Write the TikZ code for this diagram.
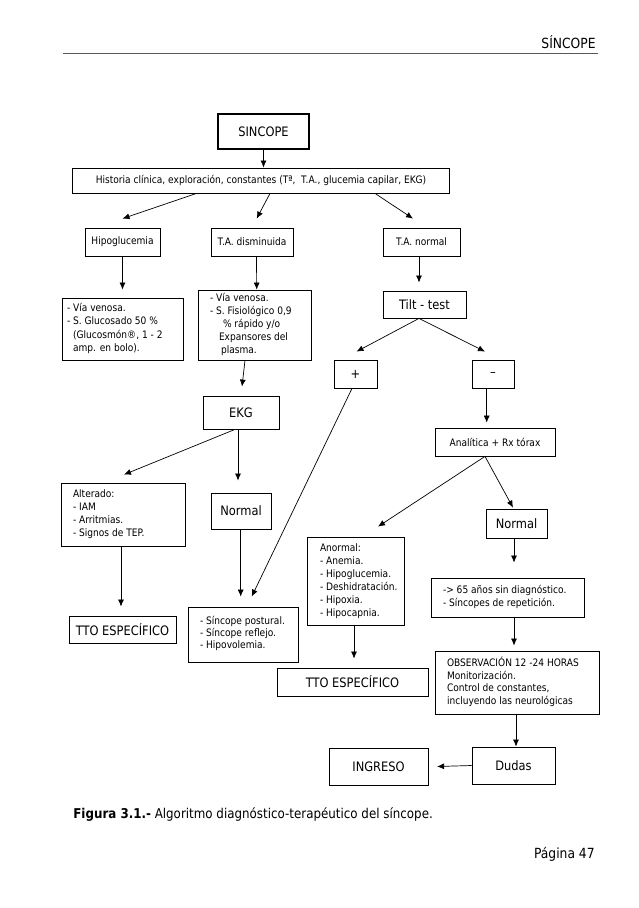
\documentclass[tikz,border=0pt]{standalone}
\usepackage{fontspec}
\setmainfont{DejaVu Sans}[FakeStretch=0.88]
\usetikzlibrary{arrows.meta}

% left-aligned lines in a box of fixed width (long lines may stick out)
\newcommand{\boxlines}[2]{\makebox[#1][l]{\begin{tabular}{@{}l@{}}#2\end{tabular}}}

\begin{document}
\begin{tikzpicture}[x=1pt, y=-1pt, ->, >={Latex[length=7pt,width=6pt]}, line width=0.7pt,
    box/.style={draw, line width=0.8pt, inner sep=0pt, minimum height=28pt, font=\fontsize{10.3}{12.5}\selectfont},
    big/.style={box, font=\fontsize{13}{15}\selectfont},
    list/.style={box, inner xsep=12pt, font=\fontsize{10.3}{13}\selectfont}]

    \useasboundingbox (0,0) rectangle (638,908);

    % Page header and footer
    \node[anchor=base east, inner sep=0pt, font=\fontsize{14}{16}\selectfont] (head) at (596,48) {SÍNCOPE};
    \draw[-, black!65, line width=1pt] (63,53) -- (598,53);
    \node[anchor=base east, inner sep=0pt, font=\fontsize{14}{16}\selectfont] (page) at (595,858) {Página 47};
    \node[anchor=base west, inner sep=0pt, font=\fontsize{13.5}{15}\selectfont] (capt) at (73,818)
        {\textbf{Figura 3.1.-} Algoritmo diagnóstico-terapéutico del síncope.};

    % Nodes
    \node[big, line width=2.5pt, minimum width=91pt, minimum height=35pt] (sinc) at (263.5,131.5) {SINCOPE};
    \node[box, minimum width=377pt, minimum height=25pt] (hist) at (261,180.5)
        {Historia clínica, exploración, constantes (Tª,\ \ T.A., glucemia capilar, EKG)};
    \node[box, minimum width=75pt] (hipo) at (122.5,242) {Hipoglucemia};
    \node[box, minimum width=82pt] (tadis) at (252,242) {T.A. disminuida};
    \node[box, minimum width=77pt] (tanorm) at (421.5,242) {T.A. normal};
    \node[list, inner xsep=5pt, minimum height=62pt, font=\fontsize{10.3}{13.5}\selectfont] (via1) at (122.5,329)
        {\boxlines{111pt}{- Vía venosa.\\- S. Glucosado 50 \%\\\hspace*{6pt}(Glucosmón®, 1 - 2\\\hspace*{6pt}amp. en bolo).}};
    \node[list, minimum height=70pt] (via2) at (254.5,325)
        {\boxlines{89pt}{- Vía venosa.\\- S. Fisiológico 0,9\\\hspace*{13pt}\% rápido y/o\\\hspace*{9pt}Expansores del\\\hspace*{11pt}plasma.}};
    \node[big, minimum width=83pt, minimum height=27pt] (tilt) at (424.5,304.5) {Tilt - test};
    \node[big, minimum width=43pt] (plus) at (355.5,374) {+};
    \node[big, minimum width=42pt] (minus) at (493,374) {–};
    \node[big, minimum width=76pt, minimum height=33pt] (ekg) at (241,412.5) {EKG};
    \node[box, minimum width=120pt] (anal) at (495,442) {Analítica + Rx tórax};
    \node[list, minimum height=63pt] (alt) at (123,514.5)
        {\boxlines{100pt}{Alterado:\\- IAM\\- Arritmias.\\- Signos de TEP.}};
    \node[big, minimum width=60pt, minimum height=36pt] (norm1) at (241,511) {Normal};
    \node[big, minimum width=61pt, minimum height=29pt] (norm2) at (516.5,523.5) {Normal};
    \node[list, inner xsep=13pt, minimum height=88pt] (anor) at (355.5,581)
        {\boxlines{71pt}{Anormal:\\- Anemia.\\- Hipoglucemia.\\- Deshidratación.\\- Hipoxia.\\- Hipocapnia.}};
    \node[list, minimum height=39pt] (may65) at (507.5,597.5)
        {\boxlines{129pt}{-> 65 años sin diagnóstico.\\- Síncopes de repetición.}};
    \node[list, minimum height=55pt, font=\fontsize{10.3}{12}\selectfont] (sinc2) at (243,634.5)
        {\boxlines{86pt}{- Síncope postural.\\- Síncope reflejo.\\- Hipovolemia.}};
    \node[big, minimum width=107pt, minimum height=27pt] (tto1) at (122.5,629.5) {TTO ESPECÍFICO};
    \node[big, minimum width=151pt] (tto2) at (352.5,682) {TTO ESPECÍFICO};
    \node[list, minimum height=63pt, font=\fontsize{10.3}{12.7}\selectfont] (obs) at (517,682.5)
        {\boxlines{140pt}{OBSERVACIÓN 12 -24 HORAS\\Monitorización.\\Control de constantes,\\incluyendo las neurológicas}};
    \node[big, minimum width=99pt, minimum height=37pt] (ingr) at (378.5,766.5) {INGRESO};
    \node[big, minimum width=83pt, minimum height=37pt] (dudas) at (513.5,765.5) {Dudas};

    % Transitions
    \draw (sinc.south) -- (sinc.south |- hist.north);
    \draw ([xshift=-64.5pt]hist.south) -- ([yshift=9pt]hipo.north);
    \draw ([xshift=9pt]hist.south) -- ([xshift=4.7pt,yshift=9pt]tadis.north);
    \draw ([xshift=114pt]hist.south) -- ([xshift=-8.5pt,yshift=9pt]tanorm.north);
    \draw (hipo.south) -- ([yshift=8pt]via1.north);
    \draw ([xshift=4.5pt]tadis.south) -- ([xshift=2.2pt]via2.north);
    \draw ([xshift=-2.5pt]tanorm.south) -- ([xshift=-5.5pt,yshift=8pt]tilt.north);
    \draw ([xshift=-9.5pt]via2.south) -- ([xshift=1pt,yshift=9pt]ekg.north);
    \draw ([xshift=-5.5pt]tilt.south) -- ([xshift=1pt,yshift=8pt]plus.north);
    \draw ([xshift=-5.5pt]tilt.south) -- ([xshift=-8pt,yshift=8pt]minus.north);
    \draw ([xshift=-6.3pt]minus.south) -- ([xshift=-8.3pt,yshift=5pt]anal.north);
    \draw ([xshift=-3.5pt]plus.south) -- ([xshift=8.7pt,yshift=10pt]sinc2.north);
    \draw ([xshift=-6pt]ekg.south) -- ([xshift=1pt,yshift=8pt]alt.north);
    \draw ([xshift=-3pt]ekg.south) -- ([xshift=-3pt,yshift=12pt]norm1.north);
    \draw ([xshift=-0.3pt]norm1.south) -- ([xshift=-2.3pt,yshift=10pt]sinc2.north);
    \draw ([xshift=-2pt]alt.south) -- ([xshift=-1.5pt,yshift=9pt]tto1.north);
    \draw ([xshift=-10pt]anal.south) -- ([xshift=22.5pt,yshift=10pt]anor.north);
    \draw ([xshift=-10pt]anal.south) -- ([xshift=-3.5pt,yshift=1pt]norm2.north);
    \draw ([xshift=-1.5pt]anor.south) -- ([xshift=1.5pt,yshift=9pt]tto2.north);
    \draw ([xshift=-2.5pt]norm2.south) -- ([xshift=6.5pt,yshift=15pt]may65.north);
    \draw ([xshift=6.5pt]may65.south) -- ([xshift=-3pt,yshift=5pt]obs.north);
    \draw ([xshift=-1pt]obs.south) -- ([xshift=2.5pt]dudas.north);
    \draw (dudas.west) -- ([xshift=8.7pt]ingr.east);

\end{tikzpicture}
\end{document}
